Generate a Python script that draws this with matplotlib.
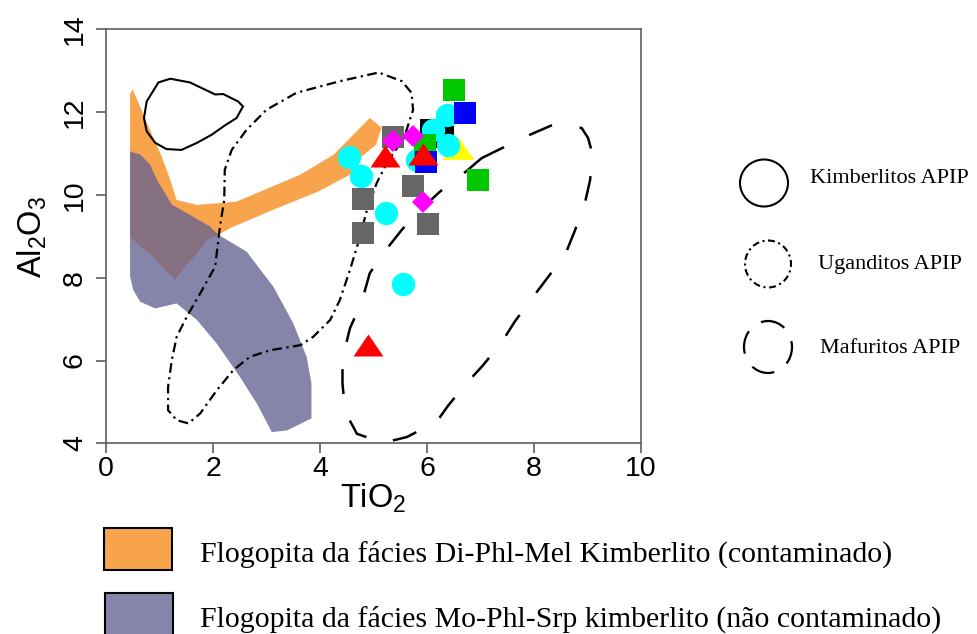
import matplotlib
matplotlib.use("Agg")
import matplotlib.pyplot as plt
from matplotlib.patches import Polygon, Ellipse, Rectangle
import numpy as np

plt.rcParams['lines.scale_dashes'] = False
plt.rcParams['mathtext.fontset'] = 'custom'
plt.rcParams['mathtext.rm'] = 'Liberation Sans'
plt.rcParams['mathtext.it'] = 'Liberation Sans:italic'
plt.rcParams['font.family'] = ['Liberation Sans', 'DejaVu Sans']

# ---------------- data ----------------
x_ticks = [0, 2, 4, 6, 8, 10]
y_ticks = [4, 6, 8, 10, 12, 14]

# Field: Kimberlitos APIP (solid contour)
kimb_x = [0.98, 1.20, 1.57, 2.04, 2.19, 2.47, 2.56, 2.44, 2.22, 1.98, 1.70, 1.41, 1.13, 0.92, 0.76, 0.71, 0.76]
kimb_y = [12.72, 12.81, 12.72, 12.43, 12.44, 12.26, 12.14, 11.86, 11.68, 11.46, 11.26, 11.09, 11.11, 11.26, 11.54, 11.86, 12.26]

# Field: Uganditos APIP (dash-dot contour)
ug_x = [5.06, 4.37, 3.56, 3.00, 2.63, 2.35, 2.22, 2.21, 2.13, 2.04, 1.76, 1.51, 1.32, 1.23, 1.16, 1.16, 1.32, 1.54,
        1.76, 2.07, 2.38, 2.69, 3.07, 3.63, 3.87, 4.19, 4.37, 4.56, 4.72, 4.87, 5.06, 5.28, 5.56, 5.74, 5.71, 5.53, 5.12]
ug_y = [12.95, 12.75, 12.47, 12.06, 11.58, 11.09, 10.61, 9.88, 9.24, 8.27, 7.62, 7.06, 6.57, 6.01, 5.36, 4.80, 4.56, 4.48,
        4.72, 5.28, 5.77, 6.09, 6.25, 6.37, 6.57, 6.98, 7.46, 8.19, 8.87, 9.60, 10.29, 10.85, 11.34, 12.06, 12.47, 12.75, 12.95]

# Field: Mafuritos APIP (dashed contour)
maf_x = [7.02, 7.46, 7.93, 8.36, 8.89, 9.01, 9.08, 9.05, 8.95, 8.77, 8.58, 8.27, 7.96, 7.64, 7.40, 7.05, 6.74, 6.40,
         6.18, 6.06, 5.62, 5.18, 4.69, 4.47, 4.42, 4.42, 4.56, 4.78, 4.93, 5.18, 5.53, 5.81, 6.24, 6.62]
maf_y = [10.89, 11.17, 11.46, 11.70, 11.62, 11.38, 11.05, 10.37, 9.80, 9.16, 8.55, 8.03, 7.50, 6.94, 6.45, 5.89, 5.45, 4.92,
         4.52, 4.44, 4.15, 4.01, 4.23, 4.76, 5.45, 6.05, 6.78, 7.42, 8.11, 8.59, 9.16, 9.56, 10.08, 10.45]

# Field: Flogopita Di-Phl-Mel (contaminado) - orange
orange_x = [0.45, 0.50, 0.70, 0.82, 1.04, 1.20, 1.32, 1.70, 2.44, 3.63, 4.25, 4.93, 5.15, 5.05, 4.75, 4.56, 3.96, 3.12,
            2.32, 2.10, 1.88, 1.70, 1.48, 1.29, 1.10, 0.88, 0.57, 0.45]
orange_y = [12.45, 12.55, 11.94, 11.58, 10.93, 10.37, 9.88, 9.76, 9.84, 10.49, 10.97, 11.86, 11.63, 11.22, 10.90, 10.49,
            10.08, 9.64, 9.20, 9.04, 8.92, 8.59, 8.27, 7.95, 8.19, 8.51, 8.84, 9.00]

# Field: Flogopita Mo-Phl-Srp (não contaminado) - purple
purple_x = [0.45, 0.64, 0.82, 0.98, 1.23, 1.57, 1.94, 2.10, 2.63, 3.13, 3.50, 3.75, 3.84, 3.84, 3.38, 3.10, 2.82, 2.50,
            2.07, 1.70, 1.32, 0.92, 0.64, 0.51, 0.45]
purple_y = [11.05, 10.98, 10.74, 10.30, 9.77, 9.52, 9.24, 9.04, 8.63, 7.78, 6.90, 6.09, 5.45, 4.60, 4.31, 4.27, 4.96, 5.61,
            6.41, 6.98, 7.38, 7.26, 7.42, 7.70, 8.03]

# Sample points (TiO2, Al2O3)
gray_x = [5.37, 5.73, 4.81, 6.02, 4.81]
gray_y = [11.40, 10.22, 9.90, 9.30, 9.08]
black_x = [6.07, 6.30]
black_y = [11.58, 11.41]
yellow_x = [6.57]
yellow_y = [11.14]
cyan_x = [4.54, 4.76, 5.23, 5.55, 6.38, 6.12, 6.40, 5.82]
cyan_y = [10.93, 10.46, 9.56, 7.85, 11.94, 11.58, 11.22, 10.85]
green_x = [6.50, 6.96, 5.96]
green_y = [12.53, 10.37, 11.22]
blue_x = [6.71, 5.98]
blue_y = [11.97, 10.79]
magenta_x = [5.37, 5.74, 5.92]
magenta_y = [11.30, 11.42, 9.83]
red_x = [5.21, 5.93, 4.90]
red_y = [10.95, 10.98, 6.37]

field_labels = ['Kimberlitos APIP', 'Uganditos APIP', 'Mafuritos APIP']
area_labels = ['Flogopita da fácies Di-Phl-Mel Kimberlito (contaminado)',
               'Flogopita da fácies Mo-Phl-Srp kimberlito (não contaminado)']

# ---------------- styles ----------------
ORANGE = '#F8A44C'
PURPLE = '#616191'
PURPLE_ALPHA = 0.77
PURPLE_SWATCH = '#8585AA'
AXC = '#606060'
DASHDOT = (0, (7, 3.2, 1.6, 3.2))
DASHED = (0, (18, 20))
SERIF = ['Liberation Serif', 'DejaVu Serif']

fig = plt.figure(figsize=(9.77, 6.34), dpi=100)

# overlay in pixel coordinates for the free-standing legends
ov = fig.add_axes([0, 0, 1, 1])
ov.set_xlim(0, 977)
ov.set_ylim(634, 0)
ov.axis('off')

ax = fig.add_axes([0.1085, 0.3008, 0.5476, 0.6527])
ax.set_xlim(0, 10)
ax.set_ylim(4, 14)

ax.add_patch(Polygon(np.column_stack([orange_x, orange_y]), closed=True, fc=ORANGE, ec='none', zorder=1))
ax.add_patch(Polygon(np.column_stack([purple_x, purple_y]), closed=True, fc=PURPLE, alpha=PURPLE_ALPHA,
                     ec='none', zorder=2))
ax.add_patch(Polygon(np.column_stack([kimb_x, kimb_y]), closed=True, fill=False, ec='black', lw=1.5, zorder=3))
ax.add_patch(Polygon(np.column_stack([ug_x, ug_y]), closed=True, fill=False, ec='black', lw=1.6,
                     linestyle=DASHDOT, zorder=3))
ax.add_patch(Polygon(np.column_stack([maf_x, maf_y]), closed=True, fill=False, ec='black', lw=1.8,
                     linestyle=DASHED, zorder=3))

tri = [(-1.5, -1.1), (1.5, -1.1), (0, 1.1), (-1.5, -1.1)]
SQ = 15.8
ax.plot(gray_x, gray_y, 's', color='#666666', ms=SQ, mew=0, ls='none', zorder=5)
ax.plot(black_x, black_y, 's', color='black', ms=SQ, mew=0, ls='none', zorder=5)
ax.plot(yellow_x, yellow_y, marker=tri, color='#FFFF00', ms=22.5, mew=0, ls='none', zorder=6)
ax.plot(cyan_x, cyan_y, 'o', color='#00FFFF', ms=16.8, mew=0, ls='none', zorder=7)
ax.plot(green_x, green_y, 's', color='#00C800', ms=SQ, mew=0, ls='none', zorder=8)
ax.plot(blue_x, blue_y, 's', color='#0000FF', ms=SQ, mew=0, ls='none', zorder=9)
ax.plot(magenta_x, magenta_y, 'D', color='#FF00FF', ms=10.8, mew=0, ls='none', zorder=10)
ax.plot(red_x, red_y, marker=tri, color='#FF0000', ms=21.6, mew=0, ls='none', zorder=11)

ax.set_xticks(x_ticks)
ax.set_yticks(y_ticks)
for s in ax.spines.values():
    s.set_color(AXC)
    s.set_linewidth(1.2)
ax.tick_params(direction='out', length=7, width=1.2, color=AXC, labelsize=20.5, pad=2)
ax.tick_params(axis='y', labelrotation=90, pad=6)
for lab in ax.get_yticklabels():
    lab.set_va('center')
ax.set_xlabel(r'$\mathrm{TiO_2}$', fontsize=23.5, labelpad=0)
ax.set_ylabel(r'$\mathrm{Al_2O_3}$', fontsize=23.5, labelpad=9)

# right-hand legend (contours)
ov.add_patch(Ellipse((764, 183), 48, 47, fill=False, ec='black', lw=1.5))
ov.add_patch(Ellipse((768, 264), 46, 47, fill=False, ec='black', lw=1.5, linestyle=(0, (5, 2.6, 1.5, 2.6))))
ov.add_patch(Ellipse((768, 347), 48, 52, fill=False, ec='black', lw=1.6, linestyle=(4, (17, 11))))
ov.text(810, 183, field_labels[0], fontsize=16, family=SERIF, va='baseline', ha='left')
ov.text(818, 269, field_labels[1], fontsize=16, family=SERIF, va='baseline', ha='left')
ov.text(820, 353, field_labels[2], fontsize=16, family=SERIF, va='baseline', ha='left')

# bottom legend (areas)
ov.add_patch(Rectangle((104, 528), 68, 42, fc=ORANGE, ec='black', lw=1.5))
ov.add_patch(Rectangle((105, 593), 68, 45, fc=PURPLE_SWATCH, ec='black', lw=1.5))
ov.text(200, 562, area_labels[0], fontsize=21.5, family=SERIF, va='baseline', ha='left')
ov.text(200, 627, area_labels[1], fontsize=21.5, family=SERIF, va='baseline', ha='left')

fig.savefig('out.png', dpi=100)
